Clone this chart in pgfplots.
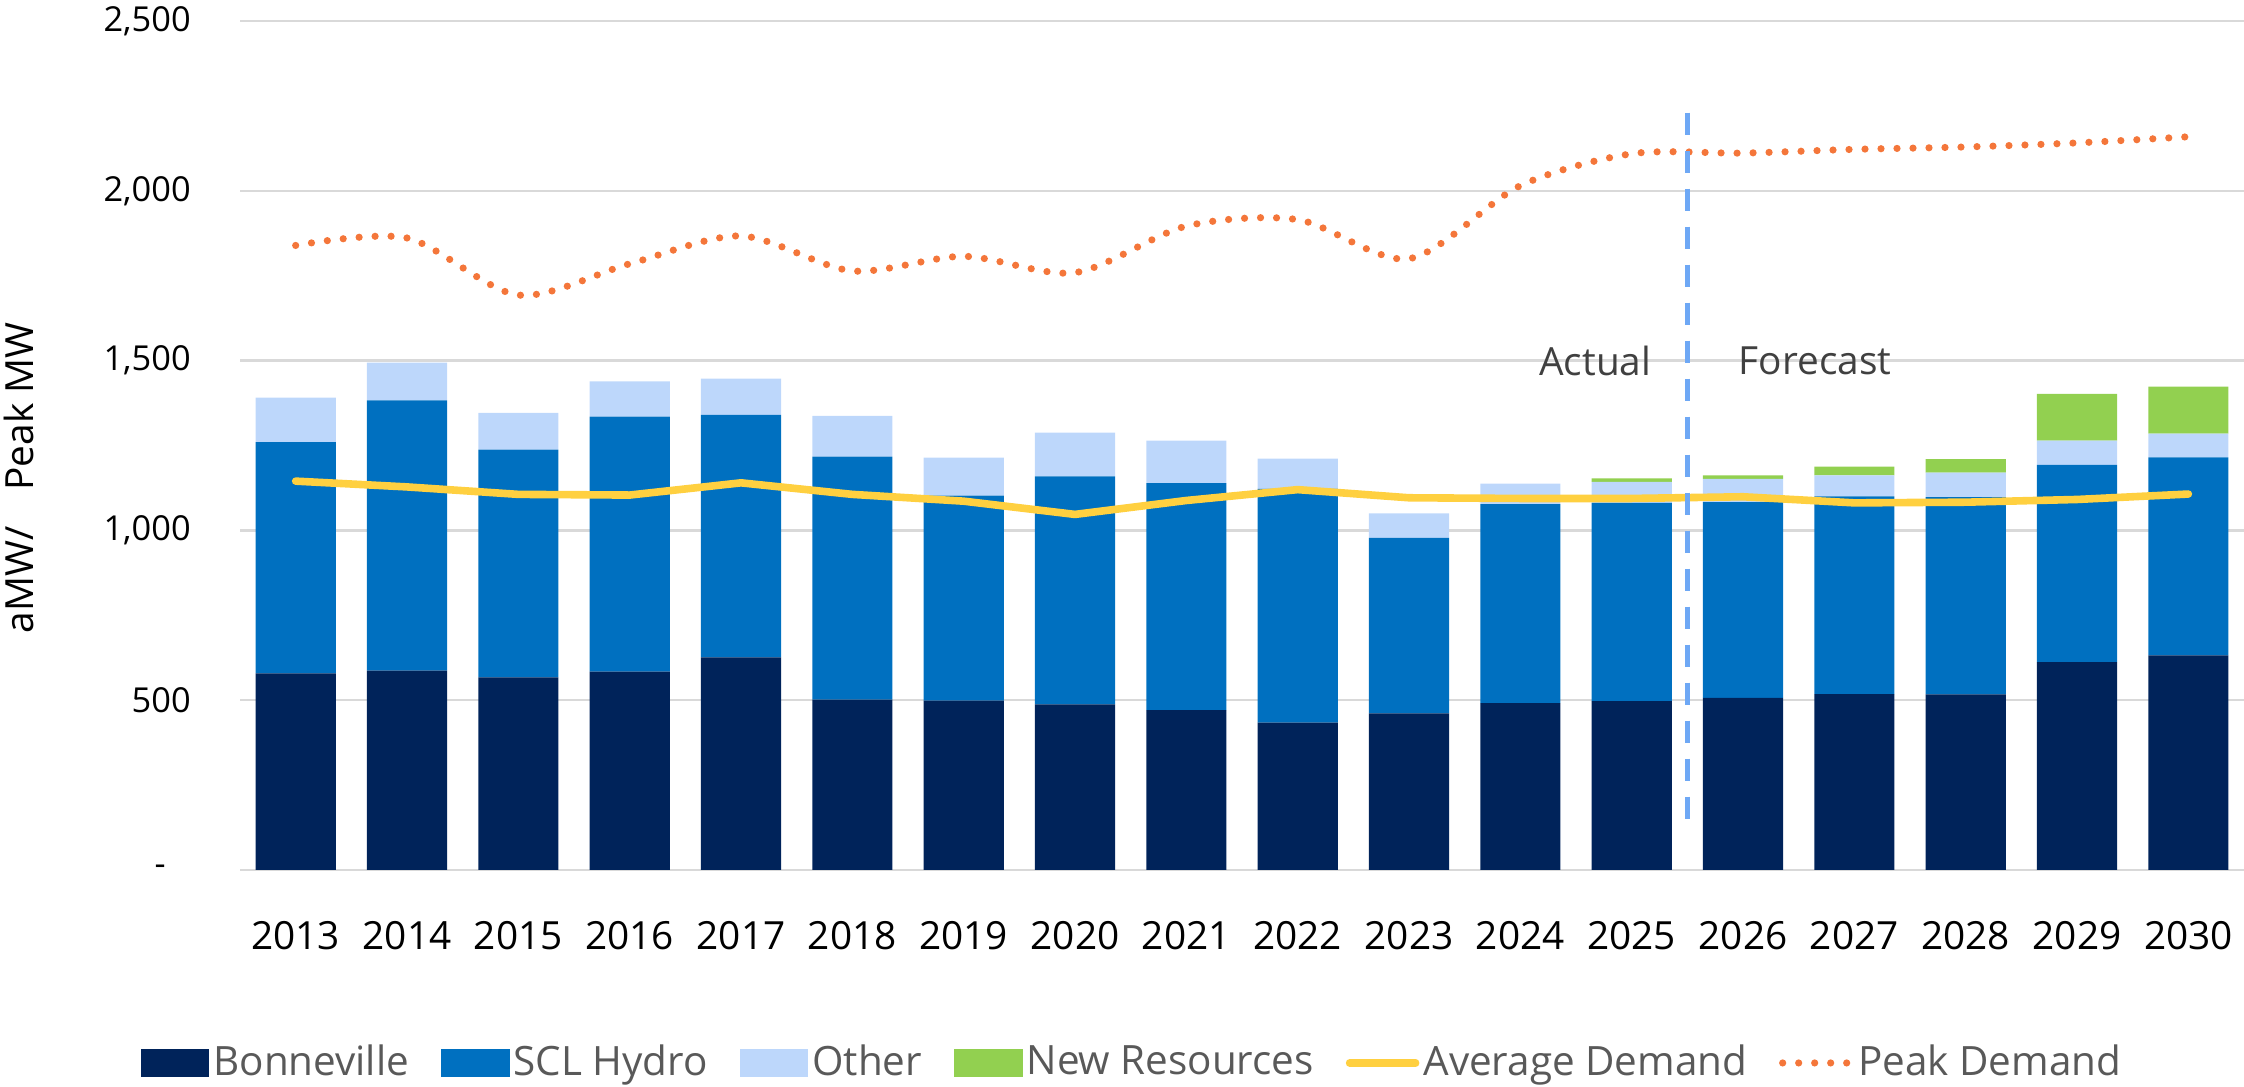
\documentclass[border=0pt]{standalone}
\usepackage{pgfplots}
\pgfplotsset{compat=1.18}
\usepackage{fontspec}
\setmainfont{Open Sans}
\definecolor{bonn}{RGB}{0,35,90}
\definecolor{scl}{RGB}{0,112,192}
\definecolor{other}{RGB}{189,215,251}
\definecolor{newres}{RGB}{146,208,80}
\definecolor{avgc}{RGB}{255,208,64}
\definecolor{peakc}{RGB}{244,118,58}
\definecolor{divc}{RGB}{110,168,245}
\definecolor{gridc}{RGB}{217,217,217}
\definecolor{legtext}{RGB}{89,89,89}
\definecolor{annot}{RGB}{64,64,64}

\pgfplotstableread{
year bonn scl other new avg peak
2013 579 681 131 0 1145 1839
2014 587 796 111 0 1128 1861
2015 567 671 108 0 1106 1693
2016 584 751 104 0 1104 1785
2017 626 714 107 0 1140 1867
2018 502 715 120 0 1106 1764
2019 499 603 112 0 1086 1807
2020 488 671 129 0 1047 1759
2021 471 668 125 0 1088 1896
2022 434 688 89 0 1120 1915
2023 461 517 72 0 1096 1800
2024 491 586 61 0 1094 2015
2025 497 584 62 10 1094 2109
2026 507 576 69 10 1099 2111
2027 518 582 62 26 1081 2122
2028 517 581 72 40 1083 2129
2029 612 581 71 138 1091 2141
2030 632 583 70 138 1107 2159
}\datatable

\begin{document}
\begin{tikzpicture}[font=\fontsize{9.7}{11.6}\selectfont]
\useasboundingbox (0,0) rectangle (561pt,271.75pt);
\begin{axis}[
  at={(60pt,54.25pt)}, anchor=south west,
  width=501pt, height=212.25pt, scale only axis,
  xmin=2012.5, xmax=2030.5, ymin=0, ymax=2500,
  ybar stacked, bar width=0.72,
  xtick={2013,2014,2015,2016,2017,2018,2019,2020,2021,2022,2023,2024,2025,2026,2027,2028,2029,2030},
  xticklabels={2013,2014,2015,2016,2017,2018,2019,2020,2021,2022,2023,2024,2025,2026,2027,2028,2029,2030},
  ytick={0,500,1000,1500,2000,2500},
  yticklabels={\makebox[9pt][l]{-},500,{1,000},{1,500},{2,000},{2,500}},
  ymajorgrids, grid style={draw=gridc, line width=0.6pt},
  axis line style={draw=none}, major tick length=0pt,
  xticklabel style={yshift=-9.3pt, text=black},
  yticklabel style={xshift=-8.8pt, text=black, font=\fontsize{8.6}{10.3}\selectfont},
]
\addplot[fill=bonn, draw=none] table[x=year, y=bonn] {\datatable};
\addplot[fill=scl, draw=none] table[x=year, y=scl] {\datatable};
\addplot[fill=other, draw=none] table[x=year, y=other] {\datatable};
\addplot[fill=newres, draw=none] table[x=year, y=new] {\datatable};
\end{axis}
\begin{axis}[
  at={(60pt,54.25pt)}, anchor=south west,
  width=501pt, height=212.25pt, scale only axis,
  xmin=2012.5, xmax=2030.5, ymin=0, ymax=2500,
  hide axis, clip=false,
  legend columns=6,
  legend style={at={(0.4456,-0.2273)}, anchor=center, draw=none, fill=none,
    font=\fontsize{10.1}{12}\selectfont\color{legtext},
    inner sep=0pt,
    nodes={inner xsep=1pt, inner ysep=0pt},
    /tikz/every even column/.append style={column sep=7pt}},
]
\addlegendimage{legend image code/.code={\fill[bonn] (0pt,-3.25pt) rectangle (16.75pt,3.25pt);}}
\addlegendentry{Bonneville}
\addlegendimage{legend image code/.code={\fill[scl] (0pt,-3.25pt) rectangle (16.75pt,3.25pt);}}
\addlegendentry{SCL Hydro}
\addlegendimage{legend image code/.code={\fill[other] (0pt,-3.25pt) rectangle (16.75pt,3.25pt);}}
\addlegendentry{Other}
\addlegendimage{legend image code/.code={\fill[newres] (0pt,-3.25pt) rectangle (16.75pt,3.25pt);}}
\addlegendentry{New Resources}
\addplot[avgc, line width=1.9pt, line cap=round, line join=round,
  legend image code/.code={\draw[avgc, line width=1.9pt, line cap=round] (1pt,0pt) -- (17.5pt,0pt);}]
  table[x=year, y=avg] {\datatable};
\addlegendentry{Average Demand}
\addplot[peakc, line width=1.8pt, smooth, line cap=round, dash pattern=on 0pt off 4pt,
  legend image code/.code={\draw[peakc, line width=1.8pt, line cap=round, dash pattern=on 0pt off 4pt] (1pt,0pt) -- (18pt,0pt);}]
  table[x=year, y=peak] {\datatable};
\addlegendentry{Peak Demand}
\draw[divc, line width=1.2pt, dash pattern=on 5.5pt off 4pt] (axis cs:2025.5,2230) -- (axis cs:2025.5,110);
\node[anchor=east, text=annot, xshift=-5.5pt] at (axis cs:2025.5,1500) {Actual};
\node[anchor=west, text=annot, xshift=9.3pt] at (axis cs:2025.5,1500) {Forecast};
\end{axis}
\node[rotate=90, text=black] at (4.8pt,152.3pt) {aMW/\hspace{9pt}Peak MW};
\end{tikzpicture}
\end{document}
